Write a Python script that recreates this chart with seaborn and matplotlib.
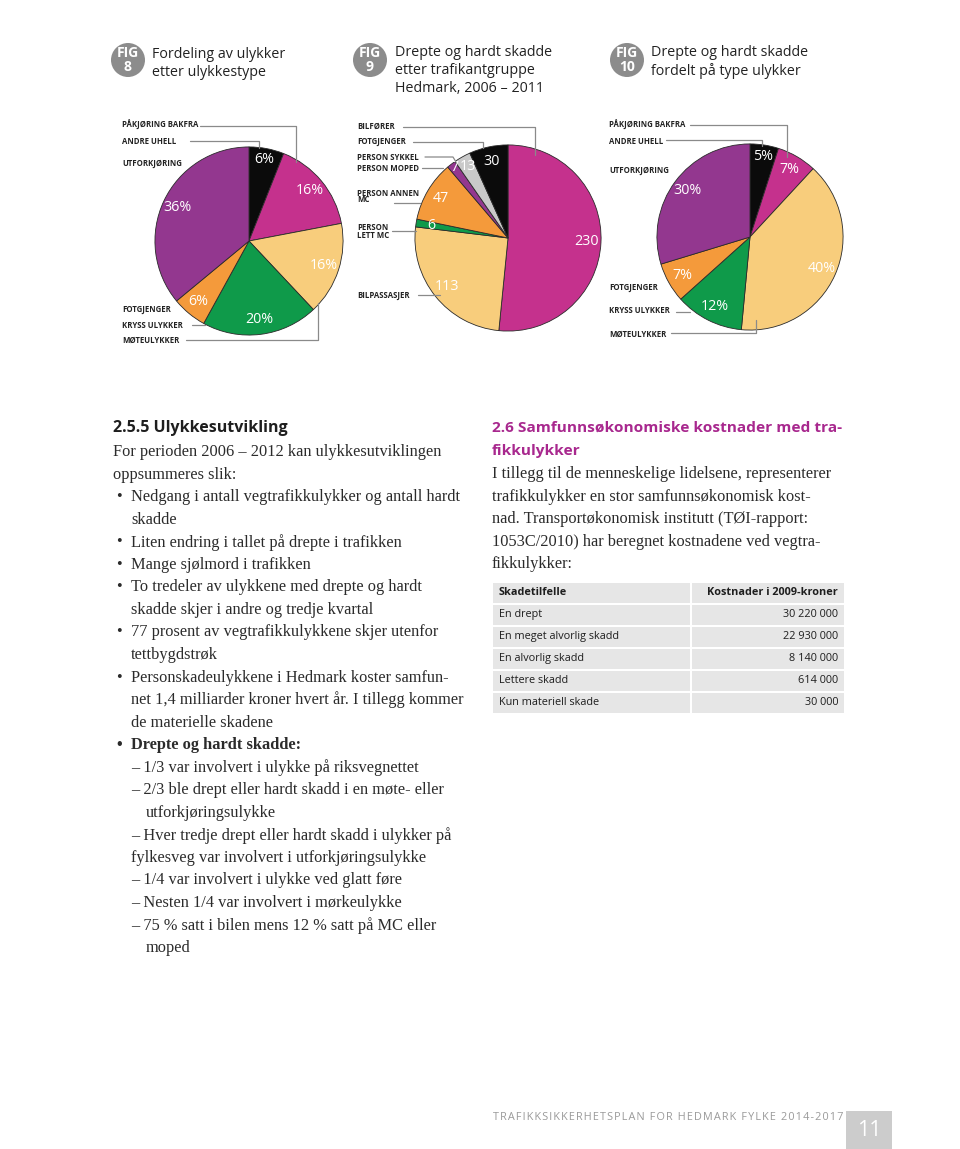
import numpy as np
import pandas as pd
import matplotlib
matplotlib.use("Agg")
import matplotlib.pyplot as plt
import seaborn as sns
from matplotlib.patches import Circle, Rectangle
from matplotlib.lines import Line2D

# ---------------- data ----------------
fig8_categories = ["Andre uhell", "Påkjøring bakfra", "Møteulykker",
                   "Kryss ulykker", "Fotgjenger", "Utforkjøring"]
fig8_values = [6, 16, 16, 20, 6, 36]

fig9_categories = ["Bilfører", "Bilpassasjer", "Person lett MC", "Person annen MC",
                   "Person moped", "Person sykkel", "Fotgjenger"]
fig9_values = [230, 113, 6, 47, 7, 13, 30]

fig10_categories = ["Andre uhell", "Påkjøring bakfra", "Møteulykker",
                    "Kryss ulykker", "Fotgjenger", "Utforkjøring"]
fig10_values = [5, 7, 40, 12, 7, 30]

table_header = ["Skadetilfelle", "Kostnader i 2009-kroner"]
table_cases = ["En drept", "En meget alvorlig skadd", "En alvorlig skadd",
               "Lettere skadd", "Kun materiell skade"]
table_costs = ["30 220 000", "22 930 000", "8 140 000", "614 000", "30 000"]

# ---------------- style ----------------
sns.set_theme(style="white")
plt.rcParams["font.family"] = ["Open Sans", "DejaVu Sans"]

BLACK = "#0b0b0b"
MAGENTA = "#c5318d"
YELLOW = "#f8cd7c"
GREEN = "#0f9a4a"
ORANGE = "#f49a3b"
PURPLE = "#93378f"
GRAY = "#c9c9c9"

type_colors = {"Andre uhell": BLACK, "Påkjøring bakfra": MAGENTA, "Møteulykker": YELLOW,
               "Kryss ulykker": GREEN, "Fotgjenger": ORANGE, "Utforkjøring": PURPLE}
group_colors = {"Bilfører": MAGENTA, "Bilpassasjer": YELLOW, "Person lett MC": GREEN,
                "Person annen MC": ORANGE, "Person moped": PURPLE,
                "Person sykkel": GRAY, "Fotgjenger": BLACK}
# radial position of value labels (fraction of radius); default 0.84
label_radius = {"Person moped": 0.95, "Person sykkel": 0.88, "Andre uhell": 0.88}

W, H = 960, 1149
fig = plt.figure(figsize=(W / 100, H / 100), dpi=100)
fig.patch.set_facecolor("white")
T = fig.dpi_scale_trans


def P(x, y):
    return x / 100.0, (H - y) / 100.0


def txt(x, y, s, **kw):
    kw.setdefault("va", "center")
    kw.setdefault("ha", "left")
    return fig.text(*P(x, y), s, transform=T, **kw)


def leader(xs, ys):
    pts = [P(x, y) for x, y in zip(xs, ys)]
    fig.add_artist(Line2D([p[0] for p in pts], [p[1] for p in pts], transform=T,
                          color="#8a8a8a", lw=0.9))


def pie_axes(cx, cy, r, cats, vals, colors, fmt):
    ax = fig.add_axes([(cx - r) / W, (H - cy - r) / H, 2 * r / W, 2 * r / H])
    df = pd.DataFrame({"cat": cats, "val": vals})
    wedges, _ = ax.pie(df["val"], colors=[colors[c] for c in df["cat"]],
                       startangle=90, counterclock=False, radius=1,
                       wedgeprops=dict(edgecolor="#2a2a2a", linewidth=0.6))
    for w, c, v in zip(wedges, df["cat"], df["val"]):
        th = np.deg2rad((w.theta1 + w.theta2) / 2)
        rr = label_radius.get(c, 0.84)
        ax.text(rr * np.cos(th), rr * np.sin(th), fmt(v), color="white",
                ha="center", va="center", fontsize=10.3)
    ax.set_xlim(-1.01, 1.01)
    ax.set_ylim(-1.01, 1.01)
    ax.set_aspect("equal")
    ax.axis("off")
    return ax


def badge(cx, cy, num):
    fig.add_artist(Circle(P(cx, cy), 0.17, transform=T, color="#8c8c8c", lw=0))
    txt(cx, cy - 7, "FIG", ha="center", color="white", fontsize=10.0, fontweight="bold")
    txt(cx, cy + 7, num, ha="center", color="white", fontsize=10.0, fontweight="bold")


# ---------------- headers ----------------
hd = dict(fontsize=10.3, color="#222222")
badge(128, 60, "8")
txt(152, 54, "Fordeling av ulykker", **hd)
txt(152, 72, "etter ulykkestype", **hd)
badge(370, 60, "9")
txt(395, 52, "Drepte og hardt skadde", **hd)
txt(395, 70, "etter trafikantgruppe", **hd)
txt(395, 88, "Hedmark, 2006 – 2011", **hd)
badge(627, 60, "10")
txt(651, 52, "Drepte og hardt skadde", **hd)
txt(651, 71, "fordelt på type ulykker", **hd)

# ---------------- pies ----------------
pie_axes(249, 241, 95, fig8_categories, fig8_values, type_colors, lambda v: f"{v}%")
pie_axes(508, 238, 94, fig9_categories, fig9_values, group_colors, lambda v: f"{v}")
pie_axes(750, 237, 94, fig10_categories, fig10_values, type_colors, lambda v: f"{v}%")

lab = dict(fontsize=5.6, fontweight="bold", color="#222222")
# fig 8 callouts
txt(122, 125, "PÅKJØRING BAKFRA", **lab); leader([200, 296, 296], [126, 126, 162])
txt(122, 141, "ANDRE UHELL", **lab); leader([190, 259, 259], [141, 141, 148])
txt(122, 163, "UTFORKJØRING", **lab)
txt(122, 310, "FOTGJENGER", **lab)
txt(122, 325, "KRYSS ULYKKER", **lab); leader([192, 205], [325, 325])
txt(122, 340, "MØTEULYKKER", **lab); leader([186, 318, 318], [340, 340, 303])
# fig 9 callouts
txt(357, 126, "BILFØRER", **lab); leader([403, 535, 535], [127, 127, 155])
txt(357, 142, "FOTGJENGER", **lab); leader([413, 483, 483], [142, 142, 148])
txt(357, 157, "PERSON SYKKEL", **lab); leader([425, 453, 456], [157, 157, 162])
txt(357, 169, "PERSON MOPED", **lab); leader([422, 443], [168, 168])
txt(357, 193, "PERSON ANNEN", **lab)
txt(357, 200, "MC", **lab); leader([394, 420], [203, 203])
txt(357, 228, "PERSON", **lab)
txt(357, 236, "LETT MC", **lab); leader([392, 416], [231, 231])
txt(357, 295, "BILPASSASJER", **lab); leader([418, 440], [295, 295])
# fig 10 callouts
txt(609, 125, "PÅKJØRING BAKFRA", **lab); leader([690, 787, 787], [125, 125, 157])
txt(609, 141, "ANDRE UHELL", **lab); leader([666, 762, 762], [140, 140, 146])
txt(609, 170, "UTFORKJØRING", **lab)
txt(609, 287, "FOTGJENGER", **lab)
txt(609, 311, "KRYSS ULYKKER", **lab); leader([676, 690], [312, 312])
txt(609, 334, "MØTEULYKKER", **lab); leader([671, 756, 756], [333, 333, 320])

# ---------------- left text column ----------------
serif = ["Liberation Serif", "DejaVu Serif"]
body = dict(fontsize=11.8, color="#2b2b2b", family=serif)
txt(113, 428, "2.5.5 Ulykkesutvikling", fontsize=11.5, fontweight="bold", color="#1e1e1e")

left_lines = [
    (0, "", "For perioden 2006 – 2012 kan ulykkesutviklingen"),
    (0, "", "oppsummeres slik:"),
    (1, "•", "Nedgang i antall vegtrafikkulykker og antall hardt"),
    (1, "", "skadde"),
    (1, "•", "Liten endring i tallet på drepte i trafikken"),
    (1, "•", "Mange sjølmord i trafikken"),
    (1, "•", "To tredeler av ulykkene med drepte og hardt"),
    (1, "", "skadde skjer i andre og tredje kvartal"),
    (1, "•", "77 prosent av vegtrafikkulykkene skjer utenfor"),
    (1, "", "tettbygdstrøk"),
    (1, "•", "Personskadeulykkene i Hedmark koster samfun-"),
    (1, "", "net 1,4 milliarder kroner hvert år. I tillegg kommer"),
    (1, "", "de materielle skadene"),
    (1, "B", "Drepte og hardt skadde:"),
    (1, "", "– 1/3 var involvert i ulykke på riksvegnettet"),
    (1, "", "– 2/3 ble drept eller hardt skadd i en møte- eller"),
    (2, "", "utforkjøringsulykke"),
    (1, "", "– Hver tredje drept eller hardt skadd i ulykker på"),
    (1, "", "fylkesveg var involvert i utforkjøringsulykke"),
    (1, "", "– 1/4 var involvert i ulykke ved glatt føre"),
    (1, "", "– Nesten 1/4 var involvert i mørkeulykke"),
    (1, "", "– 75 % satt i bilen mens 12 % satt på MC eller"),
    (2, "", "moped"),
]
indent_x = {0: 113, 1: 131, 2: 146}
for i, (lvl, bullet, s) in enumerate(left_lines):
    y = 452 + i * 22.55
    if bullet == "B":
        txt(116, y, "•", fontweight="bold", **body)
        txt(indent_x[lvl], y, s, fontweight="bold", **body)
    else:
        if bullet:
            txt(116, y, bullet, **body)
        txt(indent_x[lvl], y, s, **body)

# ---------------- right text column ----------------
HEAD = "#a8288e"
txt(492, 428, "2.6 Samfunnsøkonomiske kostnader med tra-", fontsize=11.1,
    fontweight="bold", color=HEAD)
txt(492, 451, "fikkulykker", fontsize=11.1, fontweight="bold", color=HEAD)
right_lines = [
    "I tillegg til de menneskelige lidelsene, representerer",
    "trafikkulykker en stor samfunnsøkonomisk kost-",
    "nad. Transportøkonomisk institutt (TØI-rapport:",
    "1053C/2010) har beregnet kostnadene ved vegtra-",
    "fikkulykker:",
]
for i, s in enumerate(right_lines):
    txt(492, 474 + i * 22.55, s, **body)

# ---------------- table ----------------
tx0, tx1, tsplit = 493, 844, 690
ty0, pitch, ch = 583, 22, 19.5
rows = [table_header] + [[c, v] for c, v in zip(table_cases, table_costs)]
for r, (a, b) in enumerate(rows):
    y = ty0 + r * pitch
    for (x0, x1) in [(tx0, tsplit), (tsplit + 2, tx1)]:
        fig.add_artist(Rectangle(P(x0, y + ch), (x1 - x0) / 100, ch / 100,
                                 transform=T, color="#e6e6e6", lw=0))
    fw = "bold" if r == 0 else "normal"
    txt(499, y + ch / 2, a, fontsize=7.8, fontweight=fw, color="#1e1e1e")
    txt(838, y + ch / 2, b, fontsize=7.8, fontweight=fw, color="#1e1e1e", ha="right")

# ---------------- footer ----------------
footer = "TRAFIKKSIKKERHETSPLAN FOR HEDMARK FYLKE 2014-2017"
txt(493, 1117, "\u200a".join(footer), fontsize=7.8, color="#9a9a9a")
fig.add_artist(Rectangle(P(846, 1149), 0.46, 0.38, transform=T, color="#cccccc", lw=0))
txt(869, 1131, "11", ha="center", fontsize=15.5, color="white")

fig.savefig("out.png", dpi=100)
